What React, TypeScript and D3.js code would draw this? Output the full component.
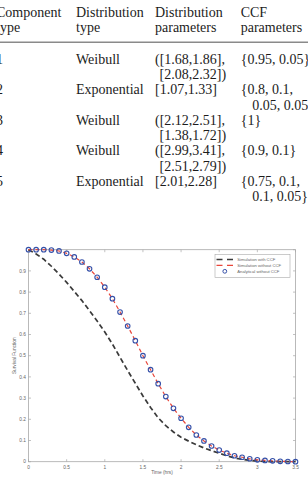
import React from "react";
import * as d3 from "d3";

// ---- Table data ----
const headerLine1 = ["Component", "Distribution", "Distribution", "CCF"];
const headerLine2 = ["type", "type", "parameters", "parameters"];
const compTypes = ["1", "2", "3", "4", "5"];
const distTypes = ["Weibull", "Exponential", "Weibull", "Weibull", "Exponential"];
const distParams1 = ["([1.68,1.86],", "[1.07,1.33]", "([2.12,2.51],", "([2.99,3.41],", "[2.01,2.28]"];
const distParams2 = ["[2.08,2.32])", "", "[1.38,1.72])", "[2.51,2.79])", ""];
const ccfParams1 = ["{0.95, 0.05}", "{0.8, 0.1,", "{1}", "{0.9, 0.1}", "{0.75, 0.1,"];
const ccfParams2 = ["", "0.05, 0.05}", "", "", "0.1, 0.05}"];

// ---- Chart data ----
const timeSteps = d3.range(0, 36).map((i) => i / 10);
const analyticalNoCCF = [
  1.0, 1.0, 1.0, 0.998, 0.994, 0.983, 0.966, 0.942, 0.91, 0.87,
  0.823, 0.769, 0.706, 0.64, 0.571, 0.5, 0.434, 0.368, 0.307, 0.252,
  0.205, 0.162, 0.126, 0.098, 0.074, 0.055, 0.04, 0.028, 0.021, 0.014,
  0.009, 0.006, 0.004, 0.002, 0.001, 0.0,
];
const simNoCCF = [
  1.0, 1.0, 1.0, 0.998, 0.994, 0.983, 0.966, 0.942, 0.91, 0.87,
  0.823, 0.769, 0.706, 0.64, 0.571, 0.5, 0.434, 0.368, 0.307, 0.252,
  0.205, 0.162, 0.126, 0.098, 0.074, 0.055, 0.04, 0.028, 0.021, 0.014,
  0.009, 0.006, 0.004, 0.002, 0.001, 0.0,
];
const simWithCCF = [
  1.0, 0.98, 0.955, 0.922, 0.885, 0.846, 0.803, 0.76, 0.712, 0.664,
  0.612, 0.555, 0.492, 0.43, 0.37, 0.31, 0.256, 0.207, 0.17, 0.14,
  0.115, 0.097, 0.08, 0.065, 0.052, 0.04, 0.028, 0.018, 0.011, 0.006,
  0.003, 0.001, 0.0, 0.0, 0.0, 0.0,
];
const xTicks = [0, 0.5, 1, 1.5, 2, 2.5, 3, 3.5];
const xTickLabels = ["0", "0.5", "1", "1.5", "2", "2.5", "3", "3.5"];
const yTicks = [0, 0.1, 0.2, 0.3, 0.4, 0.5, 0.6, 0.7, 0.8, 0.9, 1];
const yTickLabels = ["0", "0.1", "0.2", "0.3", "0.4", "0.5", "0.6", "0.7", "0.8", "0.9", ""];
const legendLabels = ["Simulation with CCF", "Simulation without CCF", "Analytical without CCF"];

export default function App() {
  const W = 308;
  const H = 479;
  const x = d3.scaleLinear().domain([0, 3.5]).range([28.5, 295.5]);
  const y = d3.scaleLinear().domain([0, 1]).range([461.7, 249.7]);
  const line = (vals: number[]) =>
    d3.line<number>().x((_, i) => x(timeSteps[i])).y((v) => y(v))(vals) || "";

  const serif = "'Liberation Serif', 'Times New Roman', serif";
  const sans = "'Liberation Sans', Arial, sans-serif";
  const tfs = 14;
  const colX = [-4, 76, 155, 240.7];
  const rowBase = (i: number) => 63.5 + i * 30.6;
  const axisColor = "#a8a8a8";
  const labelColor = "#666";
  const tk = 2.5;

  return (
    <svg width={W} height={H} style={{ position: "absolute", left: 0, top: 0, background: "#fff" }}>
      {/* Table */}
      <g fontFamily={serif} fontSize={tfs} fill="#1c1c1c">
        {headerLine1.map((t, i) => (
          <text key={"h1" + i} x={colX[i]} y={17.3}>{t}</text>
        ))}
        {headerLine2.map((t, i) => (
          <text key={"h2" + i} x={colX[i]} y={32.3}>{t}</text>
        ))}
        <line x1={0} x2={W} y1={42.3} y2={42.3} stroke="#8a8a8a" strokeWidth={1.6} />
        {compTypes.map((t, i) => (
          <g key={"r" + i}>
            <text x={colX[0]} y={rowBase(i)}>{t}</text>
            <text x={colX[1]} y={rowBase(i)}>{distTypes[i]}</text>
            <text x={colX[2]} y={rowBase(i)}>{distParams1[i]}</text>
            {distParams2[i] && <text x={159.6} y={rowBase(i) + 15.5}>{distParams2[i]}</text>}
            <text x={colX[3]} y={rowBase(i)}>{ccfParams1[i]}</text>
            {ccfParams2[i] && <text x={252.3} y={rowBase(i) + 15.5}>{ccfParams2[i]}</text>}
          </g>
        ))}
      </g>

      {/* Chart */}
      <g>
        <rect x={x(0)} y={y(1)} width={x(3.5) - x(0)} height={y(0) - y(1)} fill="none" stroke={axisColor} strokeWidth={0.8} />
        {xTicks.map((t, i) => (
          <g key={"xt" + i}>
            <line x1={x(t)} x2={x(t)} y1={y(0)} y2={y(0) - tk} stroke={axisColor} strokeWidth={0.7} />
            <line x1={x(t)} x2={x(t)} y1={y(1)} y2={y(1) + tk} stroke={axisColor} strokeWidth={0.7} />
            <text x={x(t)} y={y(0) + 7.3} fontFamily={sans} fontSize={4.8} fill={labelColor} textAnchor="middle">{xTickLabels[i]}</text>
          </g>
        ))}
        {yTicks.map((t, i) => (
          <g key={"yt" + i}>
            <line x1={x(0)} x2={x(0) + tk} y1={y(t)} y2={y(t)} stroke={axisColor} strokeWidth={0.7} />
            <line x1={x(3.5)} x2={x(3.5) - tk} y1={y(t)} y2={y(t)} stroke={axisColor} strokeWidth={0.7} />
            <text x={x(0) - 2.5} y={y(t) + 1.7} fontFamily={sans} fontSize={4.8} fill={labelColor} textAnchor="end">{yTickLabels[i]}</text>
          </g>
        ))}
        <text x={(x(0) + x(3.5)) / 2} y={474} fontFamily={sans} fontSize={4.8} fill={labelColor} textAnchor="middle">Time (hrs)</text>
        <text transform={`translate(15.5, ${(y(0) + y(1)) / 2}) rotate(-90)`} fontFamily={sans} fontSize={4.8} fill={labelColor} textAnchor="middle">Survival Function</text>

        <path d={line(simWithCCF)} fill="none" stroke="#3a3a3a" strokeWidth={1.7} strokeDasharray="5,3" />
        <path d={line(simNoCCF)} fill="none" stroke="#e8463a" strokeWidth={1.2} strokeDasharray="4,3" />
        {analyticalNoCCF.map((v, i) => (
          <circle key={"c" + i} cx={x(timeSteps[i])} cy={y(v)} r={2.3} fill="none" stroke="#3550a8" strokeWidth={1.1} />
        ))}

        {/* Legend */}
        <rect x={215} y={254.3} width={75} height={23} fill="#fff" stroke={axisColor} strokeWidth={0.6} />
        {legendLabels.map((lab, i) => {
          const ly = 259.5 + i * 5.9;
          return (
            <g key={"lg" + i}>
              {i === 0 && <line x1={216.5} x2={233} y1={ly} y2={ly} stroke="#3a3a3a" strokeWidth={1.5} strokeDasharray="6,4.5" />}
              {i === 1 && <line x1={216.5} x2={233} y1={ly} y2={ly} stroke="#e8463a" strokeWidth={1.1} strokeDasharray="6,4.5" />}
              {i === 2 && <circle cx={224.8} cy={ly} r={1.9} fill="none" stroke="#3550a8" strokeWidth={1} />}
              <text x={237.3} y={ly + 1.5} fontFamily={sans} fontSize={4.2} fill={labelColor}>{lab}</text>
            </g>
          );
        })}
      </g>
    </svg>
  );
}
